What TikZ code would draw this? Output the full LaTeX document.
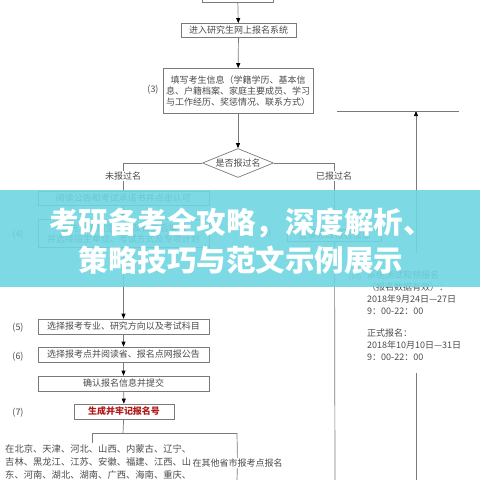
\documentclass[tikz,border=0pt]{standalone}
\usepackage{fontspec}
\newfontfamily\cjk{Noto Sans CJK SC}
\usepackage{tikz}
\usetikzlibrary{arrows.meta,shapes.geometric}
\definecolor{linegray}{HTML}{7A7A7A}
\definecolor{txtgray}{HTML}{4A4A4A}
\definecolor{bannercyan}{HTML}{6FD6E1}
\definecolor{darkred}{HTML}{B01818}

\begin{document}
\begin{tikzpicture}[
  x=1pt, y=-1pt,
  font=\cjk\fontsize{9}{11}\selectfont,
  box/.style={draw=linegray, line width=0.7pt, text=txtgray, inner sep=0pt, align=center},
  redbox/.style={box, text=darkred, font=\cjk\fontsize{9}{11}\selectfont\bfseries},
  dia/.style={diamond, shape aspect=2.5, draw=linegray, line width=0.7pt, text=txtgray, inner sep=0pt, minimum width=71pt, minimum height=29pt},
  num/.style={text=txtgray, inner sep=0pt},
  lbl/.style={text=txtgray, fill=white, inner sep=1pt},
  plain/.style={text=txtgray, inner sep=0pt, align=left},
  ln/.style={draw=linegray, line width=0.7pt},
  arr/.style={ln, -{Triangle[length=5pt,width=4pt,color=black]}},
]
  \useasboundingbox (0,0) rectangle (480,480);

  % main column
  \node[box, minimum width=71pt, minimum height=24pt] (login) at (237.5,-10) {};
  \node[box, minimum width=115pt, minimum height=14pt] (enter) at (238.5,30.5) {进入研究生网上报名系统};
  \node[box, minimum width=150pt, minimum height=45pt] (fill) at (238,91) {填写考生信息（学籍学历、基本信\\息、户籍档案、家庭主要成员、学习\\与工作经历、奖惩情况、联系方式）};
  \node[num] (n3) at (153,90) {(3)};
  \node[dia] (ask) at (238,163) {是否报过名};

  % left branch
  \node[box, minimum width=171pt, minimum height=14pt] (read) at (123.5,198) {阅读公告和考试承诺书并点击认可};
  \node[box, minimum width=171pt, minimum height=28pt] (unit) at (123.5,233.5) {首先浏览招生信息及目录后填报\\并选择招生单位、考试方式及专项计划};
  \node[num] (n4) at (18,235) {(4)};
  \node[box, minimum width=171pt, minimum height=15pt] (major) at (123.5,326.5) {选择报考专业、研究方向以及考试科目};
  \node[num] (n5) at (18,328) {(5)};
  \node[box, minimum width=171pt, minimum height=15pt] (site) at (123.5,354.5) {选择报考点并阅读省、报名点网报公告};
  \node[num] (n6) at (18,357) {(6)};
  \node[box, minimum width=171pt, minimum height=15pt] (confirm) at (123.5,383.5) {确认报名信息并提交};
  \node[redbox, minimum width=100pt, minimum height=15pt] (number) at (124,411.5) {生成并牢记报名号};
  \node[num] (n7) at (18,413) {(7)};

  \coordinate (split) at (123,433);
  \coordinate (splitL) at (92,433);
  \coordinate (splitR) at (237,433);
  \coordinate (localTop) at (92,443);
  \node[plain, anchor=north west, font=\cjk\fontsize{9.3}{13}\selectfont] (local) at (5,444) {在北京、天津、河北、山西、内蒙古、辽宁、\\吉林、黑龙江、江苏、安徽、福建、江西、山\\东、河南、湖北、湖南、广西、海南、重庆、\\四川、贵州、云南、陕西、甘肃、青海、宁};
  \node[lbl] (other) at (237.5,463) {在其他省市报考点报名};
  \coordinate (otherEnd) at (237,480);

  % right branch
  \node[box, minimum width=94pt, minimum height=12pt] (modify) at (334.5,235) {登录修改报名信息};
  \node[num] (n8) at (266,233) {(8)};
  \coordinate (modifyEnd) at (335,480);
  \node[num, font=\cjk\fontsize{7}{8}\selectfont] (n10) at (355,277) {(10)};
  \node[plain, anchor=north west, font=\cjk\fontsize{9}{12}\selectfont] (test) at (367,271) {系统测试和预报名\\（报名数据有效）：\\2018年9月24日—27日\\9：00-22：00\\[10pt]正式报名：\\2018年10月10日—31日\\9：00-22：00};
  \coordinate (upBot) at (416,480);
  \coordinate (gapLow) at (416,373);
  \coordinate (gapHigh) at (416,253);
  \coordinate (upTop) at (416,111);
  \coordinate (barL) at (337,111);
  \coordinate (barR) at (459,111);

  \draw[arr] (login) -- (enter);
  \draw[arr] (enter) -- (fill);
  \draw[arr] (fill) -- (ask);
  \draw[ln] (ask.west) -| (read.north);
  \draw[ln] (ask.east) -| (modify.north);
  \draw[arr] (read) -- (unit);
  \draw[arr] (unit) -- (major);
  \draw[arr] (major) -- (site);
  \draw[arr] (site) -- (confirm);
  \draw[arr] (confirm) -- (number);
  \draw[ln] (number) -- (split);
  \draw[ln] (splitL) -- (splitR);
  \draw[ln] (splitL) -- (localTop);
  \draw[ln] (splitR) -- (other);
  \draw[ln] (other) -- (otherEnd);
  \draw[ln] (modify) -- (modifyEnd);
  \draw[ln] (upBot) -- (gapLow);
  \draw[arr] (gapHigh) -- (upTop);
  \draw[ln] (barL) -- (barR);

  \node[lbl] (notyet) at (123,176) {未报过名};
  \node[lbl] (done) at (334,176) {已报过名};

  % banner
  \fill[bannercyan, opacity=0.9] (0,190) rectangle (480,287);
  \node[text=white, align=center, inner sep=0pt, font=\cjk\fontsize{29.5}{38}\selectfont\bfseries] (title) at (241,241) {考研备考全攻略，深度解析、\\策略技巧与范文示例展示};
\end{tikzpicture}
\end{document}
